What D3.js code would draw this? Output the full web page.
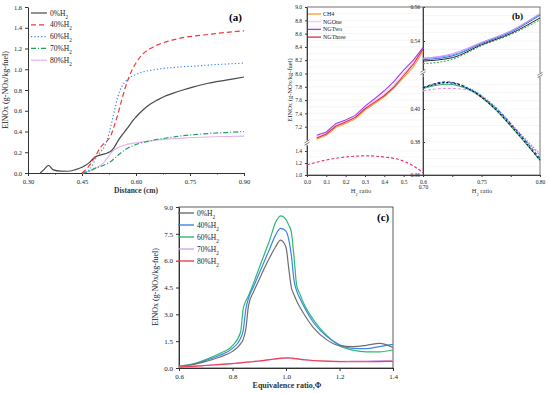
<!DOCTYPE html>
<html>
<head>
<meta charset="utf-8">
<script src="https://cdn.jsdelivr.net/npm/d3@7/dist/d3.min.js"></script>
<style>
  body { margin: 0; background: #fff; }
  svg { font-family: "Liberation Serif", "Times New Roman", serif; }
  .tick text { fill: #222; }
  .domain, .tick line { stroke: #333; }
</style>
</head>
<body>
<svg width="550" height="393"></svg>
<script>
// ---------- panel (a): EINOx vs distance ----------
const distance = [0.30, 0.32, 0.334, 0.345, 0.357, 0.37, 0.39, 0.41, 0.43, 0.45, 0.46, 0.47, 0.48, 0.49, 0.50,
  0.51, 0.52, 0.53, 0.54, 0.55, 0.56, 0.57, 0.58, 0.59, 0.60, 0.62, 0.64, 0.66, 0.68, 0.70, 0.73, 0.76, 0.80, 0.85, 0.90];
const aH2_0  = [null, null, 0, 0.035, 0.074, 0.03, 0.018, 0.017, 0.03, 0.055, 0.075, 0.1, 0.135, 0.16, 0.172,
  0.182, 0.193, 0.21, 0.25, 0.31, 0.36, 0.405, 0.45, 0.5, 0.54, 0.61, 0.665, 0.705, 0.74, 0.765, 0.8, 0.83, 0.865, 0.895, 0.925];
const aH2_40 = [null, null, null, null, null, null, null, null, null, 0, 0.03, 0.07, 0.12, 0.18, 0.24,
  0.28, 0.31, 0.36, 0.46, 0.57, 0.7, 0.82, 0.92, 1.0, 1.06, 1.15, 1.2, 1.235, 1.26, 1.28, 1.305, 1.32, 1.335, 1.355, 1.37];
const aH2_60 = [null, null, null, null, null, null, null, null, null, null, 0, 0.03, 0.08, 0.15, 0.2,
  0.24, 0.32, 0.45, 0.6, 0.74, 0.83, 0.88, 0.91, 0.935, 0.95, 0.975, 0.99, 1.0, 1.01, 1.015, 1.025, 1.03, 1.04, 1.05, 1.06];
const aH2_70 = [null, null, null, null, null, null, null, null, null, 0, 0.01, 0.02, 0.035, 0.05, 0.06,
  0.075, 0.09, 0.11, 0.14, 0.17, 0.2, 0.225, 0.245, 0.26, 0.275, 0.295, 0.31, 0.325, 0.335, 0.345, 0.36, 0.37, 0.38, 0.39, 0.4];
const aH2_80 = [null, null, null, null, null, null, null, null, null, 0, 0.005, 0.015, 0.03, 0.05, 0.07,
  0.1, 0.14, 0.19, 0.225, 0.245, 0.26, 0.27, 0.28, 0.285, 0.29, 0.3, 0.31, 0.318, 0.325, 0.33, 0.337, 0.342, 0.347, 0.352, 0.355];
const aLabels = ["0", "40", "60", "70", "80"];
const aTicksX = [0.30, 0.45, 0.60, 0.75, 0.90];
const aTicksY = [0, 0.2, 0.4, 0.6, 0.8, 1.0, 1.2, 1.4, 1.6];

// ---------- panel (b): EINOx vs H2 ratio ----------
const bRatio = [0.05, 0.1, 0.15, 0.2, 0.25, 0.3, 0.35, 0.4, 0.45, 0.5, 0.55, 0.6];
const bCH4     = [7.01, 7.07, 7.19, 7.25, 7.32, 7.45, 7.55, 7.65, 7.78, 7.94, 8.10, 8.33];
const bNGOne   = [7.05, 7.10, 7.23, 7.28, 7.35, 7.49, 7.59, 7.70, 7.83, 8.00, 8.17, 8.38];
const bNGTwo   = [7.07, 7.12, 7.25, 7.30, 7.37, 7.51, 7.62, 7.74, 7.88, 8.05, 8.20, 8.39];
const bNGThree = [7.03, 7.09, 7.21, 7.27, 7.34, 7.47, 7.57, 7.67, 7.80, 7.97, 8.14, 8.37];
const bNames = ["CH4", "NGOne", "NGTwo", "NGThree"];
const bLowRatio = [0.0, 0.1, 0.2, 0.3, 0.4, 0.5, 0.55, 0.6];
const bLow      = [1.17, 1.25, 1.30, 1.32, 1.30, 1.23, 1.15, 1.04];
// right part, upper group
const bHiRatio = [0.70, 0.725, 0.75, 0.775, 0.80];
const bHiPink  = [0.5298, 0.5325, 0.5392, 0.5460, 0.5563];
const bHiSky   = [0.5298, 0.5318, 0.5390, 0.5458, 0.5558];
const bHiBlue  = [0.5290, 0.5312, 0.5385, 0.5452, 0.5552];
const bHiBlack = [0.5282, 0.5302, 0.5378, 0.5444, 0.5536];
const bHiGreen = [0.5266, 0.5292, 0.5372, 0.5438, 0.5524];
// right part, lower group
const bLoRatio = [0.70, 0.72, 0.74, 0.76, 0.78, 0.80];
const bLoBlue  = [0.4130, 0.4165, 0.4120, 0.4020, 0.3870, 0.3700];
const bLoGreen = [0.4125, 0.4150, 0.4115, 0.4010, 0.3855, 0.3690];
const bLoPink  = [0.4110, 0.4125, 0.4115, 0.4015, 0.3865, 0.3720];
const bLoSky   = [0.4128, 0.4160, 0.4125, 0.4025, 0.3875, 0.3727];
const bLoBlack = [0.4127, 0.4160, 0.4118, 0.4012, 0.3860, 0.3690];

// ---------- panel (c): EINOx vs equivalence ratio ----------
const phi = [0.6, 0.65, 0.7, 0.75, 0.8, 0.83, 0.84, 0.85, 0.86, 0.88, 0.9, 0.92, 0.94, 0.96, 0.98,
  1.0, 1.01, 1.02, 1.03, 1.04, 1.05, 1.07, 1.1, 1.15, 1.2, 1.25, 1.3, 1.35, 1.4];
const cH2_0  = [0.07, 0.18, 0.37, 0.6, 0.93, 1.35, 1.6, 2.2, 3.5, 4.3, 4.95, 5.6, 6.2, 6.75, 7.15,
  6.75, 5.6, 4.5, 4.1, 3.75, 3.45, 2.95, 2.3, 1.6, 1.25, 1.2, 1.27, 1.38, 1.15];
const cH2_40 = [0.08, 0.2, 0.42, 0.7, 1.1, 1.65, 2.1, 3.3, 3.9, 4.6, 5.3, 6.0, 6.7, 7.4, 7.8,
  7.65, 7.2, 6.3, 4.9, 4.3, 3.95, 3.35, 2.6, 1.8, 1.3, 1.1, 1.08, 1.2, 1.32];
const cH2_60 = [0.1, 0.22, 0.47, 0.8, 1.25, 2.0, 3.3, 3.75, 4.05, 4.8, 5.6, 6.4, 7.2, 8.1, 8.5,
  8.3, 8.0, 7.6, 6.2, 4.6, 4.2, 3.5, 2.75, 1.85, 1.25, 1.0, 0.9, 0.9, 1.02];
const cH2_70 = [0.05, 0.1, 0.15, 0.2, 0.26, 0.3, 0.31, 0.33, 0.34, 0.37, 0.4, 0.43, 0.46, 0.5, 0.52,
  0.53, 0.53, 0.52, 0.51, 0.5, 0.48, 0.45, 0.41, 0.38, 0.37, 0.38, 0.39, 0.41, 0.43];
const cH2_80 = [0.05, 0.09, 0.14, 0.19, 0.25, 0.29, 0.3, 0.32, 0.33, 0.36, 0.39, 0.43, 0.47, 0.51, 0.55,
  0.57, 0.57, 0.56, 0.54, 0.52, 0.5, 0.46, 0.42, 0.38, 0.36, 0.35, 0.35, 0.36, 0.37];
const cTicksX = [0.6, 0.8, 1.0, 1.2, 1.4];
const cTicksY = [0, 1.5, 3.0, 4.5, 6.0, 7.5, 9.0];

const svg = d3.select("svg");

// label helper: "xx%H2" with subscript
function h2Label(sel, pct, size) {
  sel.append("tspan").text(pct + "%H");
  sel.append("tspan").attr("baseline-shift", "sub").attr("font-size", size * 0.7).text("2");
}

function yTitle(x, y, size) {
  svg.append("text").attr("transform", `translate(${x},${y}) rotate(-90)`)
    .attr("text-anchor", "middle").attr("font-size", size).attr("fill", "#222")
    .text("EINOx (g-NOx/kg-fuel)");
}

// ================= panel (a) =================
{
  const x = d3.scaleLinear().domain([0.30, 0.90]).range([28, 244]);
  const y = d3.scaleLinear().domain([0, 1.6]).range([173, 7]);
  const g = svg.append("g");

  g.append("g").attr("transform", "translate(0,173)")
    .call(d3.axisBottom(x).tickValues(aTicksX).tickFormat(d3.format(".2f")).tickSize(3).tickSizeOuter(0))
    .attr("font-size", 6.5).attr("font-family", null);
  g.append("g").attr("transform", "translate(0,173)")
    .call(d3.axisBottom(x).tickValues(d3.range(0.375, 0.9, 0.15)).tickFormat("").tickSize(1.5).tickSizeOuter(0))
    .select(".domain").remove();
  g.append("g").attr("transform", "translate(28,0)")
    .call(d3.axisLeft(y).tickValues(aTicksY).tickFormat(d3.format(".1f")).tickSize(3).tickSizeOuter(0))
    .attr("font-size", 6.5).attr("font-family", null);

  const series = [aH2_0, aH2_40, aH2_60, aH2_70, aH2_80];
  const colors = ["#4a4a4a", "#f03a3a", "#3b86f0", "#1fa060", "#e2b4ee"];
  const dashes = [null, "5,3", "1.2,2.2", "5,2,1,2", null];
  const line = d3.line().defined(d => d[1] != null)
    .x(d => x(d[0])).y(d => y(d[1])).curve(d3.curveMonotoneX);

  [4, 3, 0, 2, 1].forEach(i => {
    g.append("path").datum(distance.map((d, j) => [d, series[i][j]]))
      .attr("d", line).attr("fill", "none").attr("stroke", colors[i])
      .attr("stroke-width", 1.2).attr("stroke-dasharray", dashes[i]);
  });

  // legend
  aLabels.forEach((p, i) => {
    const ly = 13 + i * 11.8;
    g.append("line").attr("x1", 31).attr("x2", 47).attr("y1", ly).attr("y2", ly)
      .attr("stroke", colors[i]).attr("stroke-width", 1.2).attr("stroke-dasharray", dashes[i]);
    h2Label(g.append("text").attr("x", 50).attr("y", ly + 2.5).attr("font-size", 7.5).attr("fill", "#222"), p, 7.5);
  });

  g.append("text").attr("x", 229).attr("y", 21).attr("font-size", 11).attr("font-weight", "bold").text("(a)");
  g.append("text").attr("x", 136).attr("y", 193).attr("text-anchor", "middle")
    .attr("font-size", 7.5).attr("font-weight", "bold").attr("fill", "#333").text("Distance (cm)");
  yTitle(8, 90, 8);
}

// ================= panel (b) =================
{
  const L = 307, M = 423, R = 540, T = 7, B = 175;
  const xL = d3.scaleLinear().domain([0, 0.6]).range([L, M]);
  const xR = d3.scaleLinear().domain([0.70, 0.80]).range([M, R]);
  const yUp = d3.scaleLinear().domain([7.0, 9.0]).range([140, T]);
  const yLo = d3.scaleLinear().domain([1.0, 1.5]).range([B, 145]);
  const yRUp = d3.scaleLinear().domain([0.52, 0.56]).range([75, T]);
  const yRLo = d3.scaleLinear().domain([0.36, 0.42]).range([B, 76]);
  const g = svg.append("g");

  // faint grid
  const grid = g.append("g").attr("stroke", "#ececec").attr("stroke-width", 0.5);
  d3.range(7.1, 9.0, 0.1).forEach(v => grid.append("line").attr("x1", L).attr("x2", M).attr("y1", yUp(v)).attr("y2", yUp(v)));
  d3.range(1.1, 1.5, 0.1).forEach(v => grid.append("line").attr("x1", L).attr("x2", M).attr("y1", yLo(v)).attr("y2", yLo(v)));
  d3.range(0.525, 0.56, 0.005).forEach(v => grid.append("line").attr("x1", M).attr("x2", R).attr("y1", yRUp(v)).attr("y2", yRUp(v)));
  d3.range(0.365, 0.42, 0.005).forEach(v => grid.append("line").attr("x1", M).attr("x2", R).attr("y1", yRLo(v)).attr("y2", yRLo(v)));

  const tk = sel => sel.attr("font-size", 5.5).attr("font-family", null);
  g.append("g").attr("transform", `translate(0,${B})`)
    .call(d3.axisBottom(xL).tickValues(d3.range(0, 0.61, 0.1)).tickFormat(d3.format(".1f")).tickSize(2).tickSizeOuter(0)).call(tk);
  g.append("g").attr("transform", `translate(0,${B})`)
    .call(d3.axisBottom(xR).tickValues([0.70, 0.725, 0.75, 0.775, 0.80])
      .tickFormat(d => [0.70, 0.75, 0.80].includes(d) ? d3.format(".2f")(d) : "").tickSize(2).tickSizeOuter(0)).call(tk)
    .selectAll(".tick text").attr("dy", d => d === 0.70 ? "1.6em" : "0.71em");
  g.append("g").attr("transform", `translate(${L},0)`)
    .call(d3.axisLeft(yUp).tickValues(d3.range(7.2, 9.01, 0.2)).tickFormat(d3.format(".1f")).tickSize(2).tickSizeOuter(0)).call(tk);
  g.append("g").attr("transform", `translate(${L},0)`)
    .call(d3.axisLeft(yLo).tickValues([1.0, 1.2, 1.4]).tickFormat(d3.format(".1f")).tickSize(2).tickSizeOuter(0)).call(tk);
  g.append("g").attr("transform", `translate(${M},0)`)
    .call(d3.axisLeft(yRUp).tickValues([0.54, 0.56]).tickFormat(d3.format(".2f")).tickSize(-2).tickSizeOuter(0)).call(tk)
    .selectAll(".tick text").attr("x", -3);
  g.append("g").attr("transform", `translate(${M},0)`)
    .call(d3.axisLeft(yRLo).tickValues([0.36, 0.38, 0.40]).tickFormat(d3.format(".2f")).tickSize(-2).tickSizeOuter(0)).call(tk)
    .selectAll(".tick text").attr("x", -3);

  // frame
  g.append("rect").attr("x", L).attr("y", T).attr("width", R - L).attr("height", B - T)
    .attr("fill", "none").attr("stroke", "#555").attr("stroke-width", 0.8);
  g.append("line").attr("x1", M).attr("x2", M).attr("y1", T).attr("y2", B).attr("stroke", "#555").attr("stroke-width", 0.8);

  // left lines
  const lineL = d3.line().x(d => xL(d[0])).y(d => yUp(d[1])).curve(d3.curveLinear);
  const bColors = ["#ff9a2e", "#f5c8f5", "#a23ee8", "#d0304a"];
  [bCH4, bNGOne, bNGThree, bNGTwo].forEach((s, k) => {
    const ci = [0, 1, 3, 2][k];
    g.append("path").datum(bRatio.map((r, j) => [r, s[j]])).attr("d", lineL)
      .attr("fill", "none").attr("stroke", bColors[ci]).attr("stroke-width", 1.1);
  });
  g.append("path").datum(bLowRatio.map((r, j) => [r, bLow[j]]))
    .attr("d", d3.line().x(d => xL(d[0])).y(d => yLo(d[1])).curve(d3.curveMonotoneX))
    .attr("fill", "none").attr("stroke", "#e0307a").attr("stroke-width", 1.1).attr("stroke-dasharray", "3,2");

  // right lines
  const lineRU = d3.line().x(d => xR(d[0])).y(d => yRUp(d[1])).curve(d3.curveMonotoneX);
  const lineRL = d3.line().x(d => xR(d[0])).y(d => yRLo(d[1])).curve(d3.curveMonotoneX);
  const hi = [[bHiGreen, "#3aa63a", "2,1.5"], [bHiBlack, "#22223a", null], [bHiBlue, "#3a62e0", null],
              [bHiSky, "#3fb4f2", null], [bHiPink, "#e68af2", null]];
  hi.forEach(([s, c, da]) => g.append("path").datum(bHiRatio.map((r, j) => [r, s[j]])).attr("d", lineRU)
    .attr("fill", "none").attr("stroke", c).attr("stroke-width", 1).attr("stroke-dasharray", da));
  const lo = [[bLoSky, "#3fc0f2", "1.5,1.5"], [bLoPink, "#f08ae6", "3,2"], [bLoBlue, "#2a46c8", "3,2"],
              [bLoGreen, "#32b070", null], [bLoBlack, "#111", "2,2"]];
  lo.forEach(([s, c, da]) => g.append("path").datum(bLoRatio.map((r, j) => [r, s[j]])).attr("d", lineRL)
    .attr("fill", "none").attr("stroke", c).attr("stroke-width", 1.1).attr("stroke-dasharray", da));

  // axis breaks
  const brk = (bx, by) => {
    g.append("rect").attr("x", bx - 3).attr("y", by - 2).attr("width", 6).attr("height", 4).attr("fill", "#fff");
    [-1.2, 1.2].forEach(o => g.append("line").attr("x1", bx - 2.5).attr("x2", bx + 2.5)
      .attr("y1", by + o + 1.5).attr("y2", by + o - 1.5).attr("stroke", "#444").attr("stroke-width", 0.7));
  };
  brk(L, 142.5); brk(M, 72); brk(R, 75);

  // legend
  bNames.forEach((n, i) => {
    const ly = 14 + i * 7.7;
    g.append("line").attr("x1", 308).attr("x2", 321).attr("y1", ly).attr("y2", ly)
      .attr("stroke", bColors[i]).attr("stroke-width", 1.3);
    g.append("text").attr("x", 323).attr("y", ly + 2).attr("font-size", 6).attr("fill", "#222").text(n);
  });
  g.append("text").attr("x", 512).attr("y", 19).attr("font-size", 9).attr("font-weight", "bold").text("(b)");

  [[361], [482]].forEach(([cx]) => {
    const t = g.append("text").attr("x", cx).attr("y", 193).attr("text-anchor", "middle")
      .attr("font-size", 6.5).attr("fill", "#333");
    t.append("tspan").text("H");
    t.append("tspan").attr("baseline-shift", "sub").attr("font-size", 4.5).text("2");
    t.append("tspan").text(" ratio");
  });
  yTitle(292, 90, 6.5);
}

// ================= panel (c) =================
{
  const x = d3.scaleLinear().domain([0.6, 1.4]).range([179, 393]);
  const y = d3.scaleLinear().domain([0, 9]).range([368, 207]);
  const g = svg.append("g");

  g.append("g").attr("transform", "translate(0,368)")
    .call(d3.axisBottom(x).tickValues(cTicksX).tickFormat(d3.format(".1f")).tickSize(3).tickSizeOuter(0))
    .attr("font-size", 7).attr("font-family", null);
  g.append("g").attr("transform", "translate(179,0)")
    .call(d3.axisLeft(y).tickValues(cTicksY).tickFormat(d3.format(".1f")).tickSize(3).tickSizeOuter(0))
    .attr("font-size", 7).attr("font-family", null);
  g.append("rect").attr("x", 179).attr("y", 207).attr("width", 214).attr("height", 161)
    .attr("fill", "none").attr("stroke", "#333").attr("stroke-width", 0.8);

  const series = [cH2_0, cH2_40, cH2_60, cH2_70, cH2_80];
  const colors = ["#6e6e6e", "#3a86e8", "#2fb878", "#d6a6ea", "#f0404e"];
  const line = d3.line().x(d => x(d[0])).y(d => y(d[1])).curve(d3.curveMonotoneX);
  [2, 1, 0, 3, 4].forEach(i => {
    g.append("path").datum(phi.map((p, j) => [p, series[i][j]])).attr("d", line)
      .attr("fill", "none").attr("stroke", colors[i]).attr("stroke-width", 1.2);
  });

  aLabels.forEach((p, i) => {
    const ly = 213 + i * 12;
    g.append("line").attr("x1", 178).attr("x2", 194).attr("y1", ly).attr("y2", ly)
      .attr("stroke", colors[i]).attr("stroke-width", 1.4);
    h2Label(g.append("text").attr("x", 197).attr("y", ly + 2.5).attr("font-size", 7.5).attr("fill", "#222"), p, 7.5);
  });

  g.append("text").attr("x", 377).attr("y", 221).attr("font-size", 11).attr("font-weight", "bold").text("(c)");
  g.append("text").attr("x", 287).attr("y", 388).attr("text-anchor", "middle")
    .attr("font-size", 8).attr("font-weight", "bold").attr("fill", "#333").text("Equivalence ratio,Φ");
  yTitle(158, 287, 8);
}
</script>
</body>
</html>
